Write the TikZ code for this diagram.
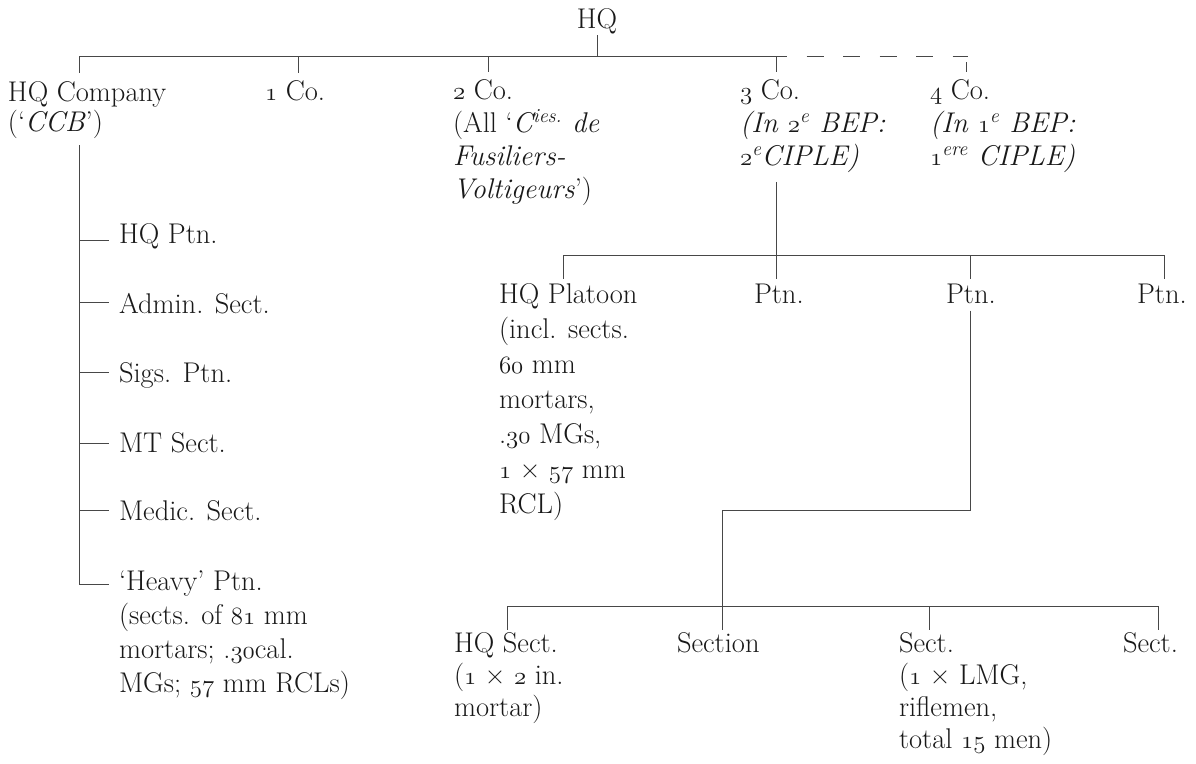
\documentclass[tikz,border=0pt]{standalone}
\usepackage{fontspec}
\newcommand\os[1]{{\usefont{OML}{lmm}{m}{it}#1}}
\newcommand\ml[1]{\begin{tabular}[t]{@{}l@{}}#1\end{tabular}}
\begin{document}
\begin{tikzpicture}[x=1pt,y=-1pt,
  lbl/.style={inner sep=0pt, outer sep=0pt, anchor=base west, text=black!90,
    font=\fontsize{28.5}{33}\selectfont},
  ln/.style={draw=black!72, line width=0.8pt}]
\fill[white] (0,0) rectangle (1196,763);
\useasboundingbox (0,0) rectangle (1196,763);

% ---- labels ----
\node[lbl, anchor=base] (hq) at (597,28) {\ml{HQ}};
\node[lbl, font=\fontsize{28.5}{30}\selectfont] (hqc) at (8,101) {\ml{HQ Company\\(‘\textit{CCB}’)}};
\node[lbl] (c1) at (265,100) {\ml{\os{1} Co.}};
\node[lbl] (c2) at (453,99) {\ml{\os{2} Co.\\(All ‘\textit{C\textsuperscript{ies.} de}\\\textit{Fusiliers-}\\\textit{Voltigeurs}’)}};
\node[lbl] (c3) at (740,99) {\ml{\os{3} Co.\\\textit{(In \os{2}\textsuperscript{e} BEP:}\\\textit{\os{2}\textsuperscript{e}CIPLE)}}};
\node[lbl] (c4) at (930,99) {\ml{\os{4} Co.\\\textit{(In \os{1}\textsuperscript{e} BEP:}\\\textit{\os{1}\textsuperscript{ere} CIPLE)}}};

\node[lbl] (p1) at (119,243) {\ml{HQ Ptn.}};
\node[lbl] (p2) at (119,313) {\ml{Admin. Sect.}};
\node[lbl] (p3) at (119,382) {\ml{Sigs. Ptn.}};
\node[lbl] (p4) at (119,452) {\ml{MT Sect.}};
\node[lbl] (p5) at (119,520) {\ml{Medic. Sect.}};
\node[lbl, font=\fontsize{28.5}{34}\selectfont] (heavy) at (119,590)
  {\ml{‘Heavy’ Ptn.\\(sects. of \os{81} mm\\mortars; .\os{30}cal.\\MGs; \os{57} mm RCLs)}};

\node[lbl, font=\fontsize{28.5}{35}\selectfont] (hqp) at (499,303)
  {\ml{HQ Platoon\\(incl. sects.\\\os{60} mm\\mortars,\\.\os{30} MGs,\\\os{1} × \os{57} mm\\RCL)}};
\node[lbl, font=\fontsize{28.5}{35}\selectfont] (pt1) at (754,303) {\ml{Ptn.}};
\node[lbl, font=\fontsize{28.5}{35}\selectfont] (pt2) at (946,303) {\ml{Ptn.}};
\node[lbl, font=\fontsize{28.5}{35}\selectfont] (pt3) at (1137,303) {\ml{Ptn.}};

\node[lbl, font=\fontsize{28.5}{32}\selectfont] (hqs) at (454,652) {\ml{HQ Sect.\\(\os{1} × \os{2} in.\\mortar)}};
\node[lbl, font=\fontsize{28.5}{32}\selectfont] (sec) at (677,652) {\ml{Section}};
\node[lbl, font=\fontsize{28.5}{32}\selectfont] (sc3) at (899,652) {\ml{Sect.\\(\os{1} × LMG,\\riflemen,\\total \os{15} men)}};
\node[lbl, font=\fontsize{28.5}{32}\selectfont] (sc4) at (1123,652) {\ml{Sect.}};

% ---- top level connectors ----
\coordinate (bL) at (79,56);
\coordinate (bS) at (787,56);
\coordinate (bR) at (968,56);
\coordinate (k1) at (298,56);
\coordinate (k2) at (488,56);
\coordinate (k3) at (776,56);
\coordinate (k4) at (966,62);

\draw[ln] (bL) -- (bS);
\draw[ln, dash pattern=on 17pt off 19.5pt, dash phase=17pt] (bS) -- (bR);
\draw[ln, shorten <=7pt] (hq.base) -- (hq.base |- bL);
\draw[ln, shorten >=7pt] (bL) -- (bL |- hqc.north);
\draw[ln, shorten >=4pt] (k1) -- (k1 |- c1.north);
\draw[ln, shorten >=4pt] (k2) -- (k2 |- c2.north);
\draw[ln, shorten >=4pt] (k3) -- (k3 |- c3.north);
\draw[ln, shorten >=4pt] (k4) -- (k4 |- c4.north);

% ---- HQ company branch ----
\coordinate (h1) at (79,240);
\coordinate (h2) at (79,302);
\coordinate (h3) at (79,372);
\coordinate (h4) at (79,443);
\coordinate (h5) at (79,510);
\coordinate (h6) at (79,584);
\draw[ln, shorten <=5pt, shorten >=10pt] (bL |- hqc.south) -- (h6) -- (h6 -| heavy.west);
\draw[ln, shorten >=10pt] (h1) -- (h1 -| p1.west);
\draw[ln, shorten >=10pt] (h2) -- (h2 -| p2.west);
\draw[ln, shorten >=10pt] (h3) -- (h3 -| p3.west);
\draw[ln, shorten >=10pt] (h4) -- (h4 -| p4.west);
\draw[ln, shorten >=10pt] (h5) -- (h5 -| p5.west);

% ---- 3 Co. branch ----
\coordinate (m0) at (563,255);
\coordinate (m2) at (970,255);
\coordinate (m3) at (1164,255);
\draw[ln, shorten <=7pt] (k3 |- c3.south) -- (k3 |- pt1.north);
\draw[ln] (m0) -- (m3);
\draw[ln] (m0) -- (m0 |- hqp.north);
\draw[ln] (m2) -- (m2 |- pt2.north);
\draw[ln] (m3) -- (m3 |- pt3.north);

% ---- platoon branch ----
\coordinate (j) at (722,510);
\coordinate (n0) at (507,606);
\coordinate (n2) at (929,606);
\coordinate (n3) at (1158,606);
\draw[ln, shorten <=-3pt] (m2 |- pt2.south) |- (j) -- (j |- sec.north);
\draw[ln] (n0) -- (n3);
\draw[ln] (n0) -- (n0 |- hqs.north);
\draw[ln] (n2) -- (n2 |- sc3.north);
\draw[ln] (n3) -- (n3 |- sc4.north);
\end{tikzpicture}
\end{document}
